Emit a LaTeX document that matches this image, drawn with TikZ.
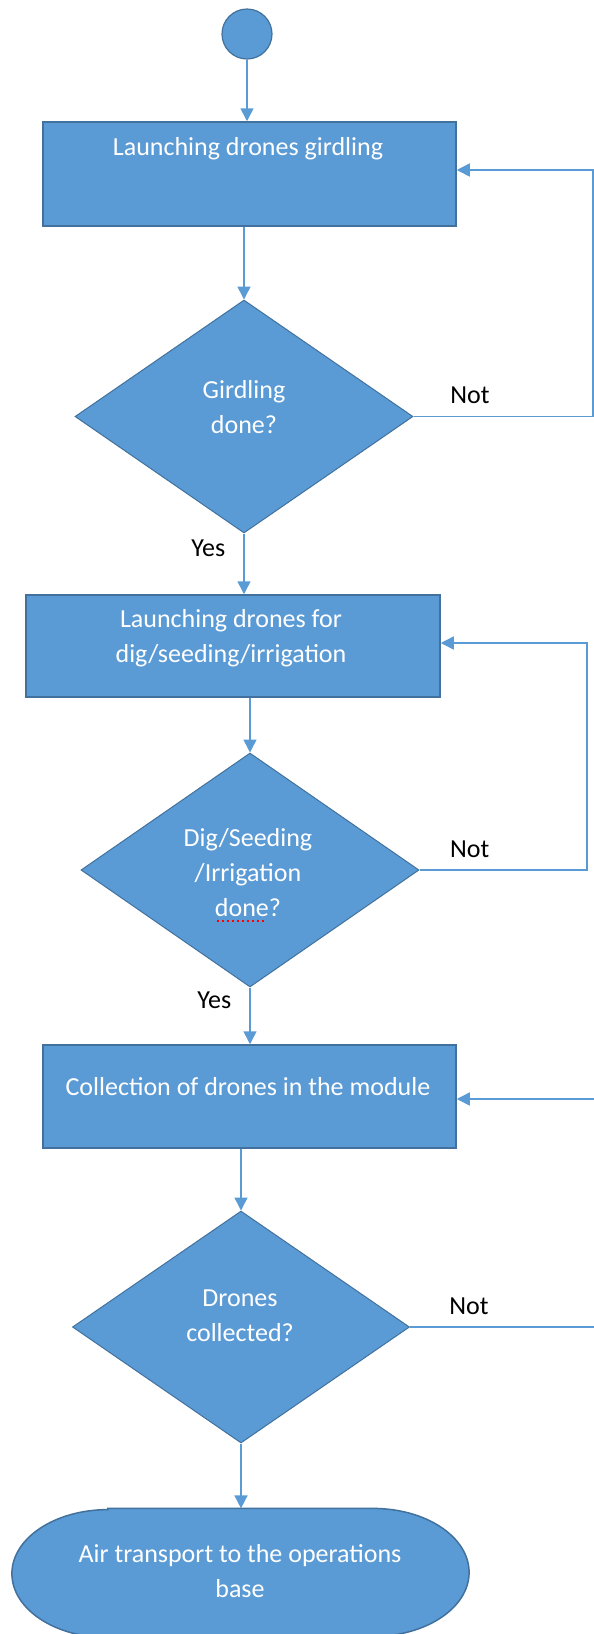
\documentclass[tikz,border=0pt]{standalone}
\usepackage{fontspec}
\setmainfont{Carlito}
\usetikzlibrary{shapes.geometric,arrows.meta,positioning,calc}
\definecolor{flowblue}{HTML}{5B9BD5}
\definecolor{flowedge}{HTML}{41719C}

\begin{document}
\begin{tikzpicture}[>={Triangle[width=6.5pt,length=6.5pt]},x=0.5pt,y=-0.5pt,semithick]
\tikzstyle{every node}=[font=\fontsize{13}{17.5}\selectfont]
\tikzstyle{startdot}=[circle,draw=flowedge,line width=0.6pt,fill=flowblue,minimum size=25pt,inner sep=0pt]
\tikzstyle{procbox}=[rectangle,draw=flowedge,line width=0.75pt,fill=flowblue,minimum width=206.5pt,inner sep=0pt]
\tikzstyle{check}=[diamond,draw=flowedge,line width=0.5pt,fill=flowblue,inner sep=0pt]
\tikzstyle{intext}=[text=white,align=center,inner sep=0pt]
\tikzstyle{flow}=[->,draw=flowblue,line width=0.75pt]
\tikzstyle{answer}=[text=black,inner sep=2pt]
\tikzstyle{spellmark}=[red,line width=0.8pt,dash pattern=on 1pt off 1.5pt]
\useasboundingbox (0,0) rectangle (594,1634);
\clip (0,0) rectangle (594,1634);
 %nodes
\node[startdot] at (247,34) (start){};
\node[procbox,minimum height=52pt] at (249.5,174) (launch){};
\node[check,minimum width=169pt,minimum height=116.5pt] at (244,416.5) (girdle){};
\node[procbox,minimum width=207pt,minimum height=51pt] at (233,646) (seed){};
\node[check,minimum width=169pt,minimum height=117pt] at (250,870) (digdone){};
\node[procbox,minimum height=51.5pt] at (249.5,1096.5) (collect){};
\node[check,minimum width=168.5pt,minimum height=116pt] at (241,1327) (collected){};
\node[inner sep=0pt,minimum width=228pt,minimum height=64pt] at (240.5,1573) (airbase){};
\draw[draw=flowedge,fill=flowblue,line width=0.75pt] ([xshift=48pt]airbase.north west) -- ([xshift=-48pt]airbase.north east)
  arc[start angle=90,end angle=-90,x radius=48pt,y radius=32pt] -- ([xshift=48pt]airbase.south west)
  arc[start angle=270,end angle=90,x radius=48pt,y radius=32pt] -- cycle;
 %texts
\node[intext] at (248,149) (launch-txt){Launching drones girdling};
\node[intext] at (244,407) (girdle-txt){Girdling\\done?};
\node[intext] at (231,638) (seed-txt){Launching drones for\\dig/seeding/irrigation};
\node[intext] at (248,873) (digdone-txt){Dig/Seeding\\/Irrigation\\done?};
\node[intext] at (248,1087) (collect-txt){Collection of drones in the module};
\node[intext] at (240,1316) (collected-txt){Drones\\collected?};
\node[intext] at (240,1571) (airbase-txt){Air transport to the operations\\base};
\draw[spellmark] ([xshift=-15.5pt,yshift=-1.5pt]digdone-txt.south) -- ++(25pt,0);
\coordinate (rail1) at (593,170);
\coordinate (rail2) at (587,643);
\coordinate (rail3) at (600,1099);
 %paths
\draw[flow] (start) -- (start |- launch.north);
\draw[flow] (girdle.north |- launch.south) -- (girdle.north);
\draw[flow] (girdle.south) -- node[answer,pos=0.25,left=7pt] (yes1){Yes} (girdle.south |- seed.north);
\draw[flow] (girdle.east) -| node[answer,pos=0.157,above=4pt] (not1){Not} (rail1) -- (launch.east |- rail1);
\draw[flow] (digdone.north |- seed.south) -- (digdone.north);
\draw[flow] (digdone.south) -- node[answer,pos=0.22,left=7pt] (yes2){Yes} (digdone.south |- collect.north);
\draw[flow] (digdone.east) -| node[answer,pos=0.15,above=4pt] (not2){Not} (rail2) -- (seed.east |- rail2);
\draw[flow] (collected.north |- collect.south) -- (collected.north);
\draw[flow] (collected.east) -| node[answer,pos=0.155,above=4pt] (not3){Not} (rail3) -- (collect.east |- rail3);
\draw[flow] (collected.south) -- (collected.south |- airbase.north);
\end{tikzpicture}
\end{document}
